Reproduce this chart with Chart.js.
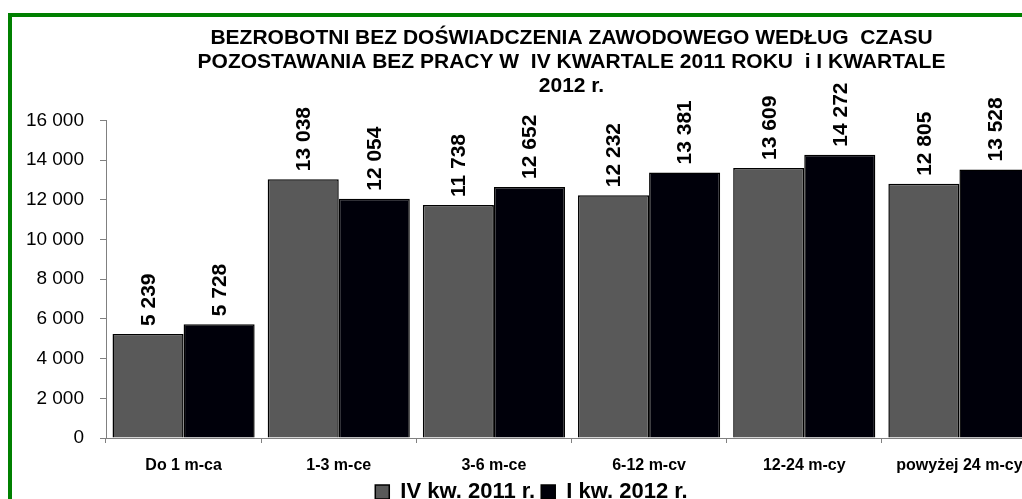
<!DOCTYPE html>
<html>
<head>
<meta charset="utf-8">
<script src="https://cdn.jsdelivr.net/npm/chart.js@4/dist/chart.umd.min.js"></script>
<style>
  html, body { margin: 0; padding: 0; background: #fff; overflow: hidden; width: 1022px; height: 499px; }
  #frame { position: absolute; left: 8px; top: 13px; width: 1200px; height: 560px; border: 4px solid #008000; }
  #wrap { position: absolute; left: 12px; top: 17px; width: 1110px; height: 496px; }
</style>
</head>
<body>
<div id="frame"></div>
<div id="wrap"><canvas id="chart"></canvas></div>
<script>
// Data
const categories = ['Do 1 m-ca', '1-3 m-ce', '3-6 m-ce', '6-12 m-cv', '12-24 m-cy', 'powyżej 24 m-cy'];
const q4_2011 = [5239, 13038, 11738, 12232, 13609, 12805];
const q1_2012 = [5728, 12054, 12652, 13381, 14272, 13528];
const seriesNames = ['IV kw. 2011 r.', 'I kw. 2012 r.'];
const titleLines = [
    'BEZROBOTNI BEZ DOŚWIADCZENIA ZAWODOWEGO WEDŁUG  CZASU',
    'POZOSTAWANIA BEZ PRACY W  IV KWARTALE 2011 ROKU  i I KWARTALE',
    '2012 r.'
];

const FONT = 'Arial, "Liberation Sans", sans-serif';

// "16000" -> "16 000"
function fmt(v) {
    return String(v).replace(/\B(?=(\d{3})+(?!\d))/g, ' ');
}

// Rotated value labels above each bar
const barLabels = {
    id: 'barLabels',
    afterDatasetsDraw(chart) {
        const ctx = chart.ctx;
        ctx.save();
        ctx.font = 'bold 21px ' + FONT;
        ctx.fillStyle = '#000';
        ctx.textAlign = 'left';
        ctx.textBaseline = 'middle';
        chart.data.datasets.forEach((ds, i) => {
            chart.getDatasetMeta(i).data.forEach((bar, j) => {
                ctx.save();
                ctx.translate(bar.x, bar.y - 8);
                ctx.rotate(-Math.PI / 2);
                ctx.fillText(fmt(ds.data[j]), 0, 1);
                ctx.restore();
            });
        });
        ctx.restore();
    }
};

const chart = new Chart(document.getElementById('chart'), {
    type: 'bar',
    data: {
        labels: categories,
        datasets: [
            { label: seriesNames[0], data: q4_2011, backgroundColor: '#595959', borderColor: '#000', borderWidth: 1.5 },
            { label: seriesNames[1], data: q1_2012, backgroundColor: '#00000a', borderColor: '#000', borderWidth: 1.5 }
        ]
    },
    options: {
        responsive: true,
        maintainAspectRatio: false,
        animation: false,
        categoryPercentage: 0.916,
        barPercentage: 1,
        layout: { padding: { left: 14, right: 85, top: 0, bottom: 0 } },
        plugins: {
            title: {
                display: true,
                fullSize: false,
                text: titleLines,
                color: '#000',
                font: { family: FONT, size: 21, weight: 'bold', lineHeight: 1.15 },
                padding: { top: 9, bottom: 22 }
            },
            legend: {
                position: 'bottom',
                labels: {
                    color: '#000',
                    boxWidth: 14,
                    boxHeight: 14,
                    padding: 6,
                    font: { family: FONT, size: 22, weight: 'bold' }
                }
            },
            tooltip: { enabled: false }
        },
        scales: {
            x: {
                afterFit(scale) { scale.height = 37; },
                grid: { drawOnChartArea: false, drawTicks: true, tickLength: 5, color: '#808080' },
                border: { color: '#808080' },
                ticks: { color: '#000', padding: 13, maxRotation: 0, font: { family: FONT, size: 16, weight: 'bold' } }
            },
            y: {
                min: 0,
                max: 16000,
                afterFit(scale) { scale.width = 80; },
                grid: { drawOnChartArea: false, drawTicks: true, tickLength: 6, color: '#808080' },
                border: { color: '#808080' },
                ticks: {
                    stepSize: 2000,
                    color: '#000',
                    padding: 16,
                    font: { family: FONT, size: 19 },
                    callback: (v) => fmt(v)
                }
            }
        }
    },
    plugins: [barLabels]
});
</script>
</body>
</html>
